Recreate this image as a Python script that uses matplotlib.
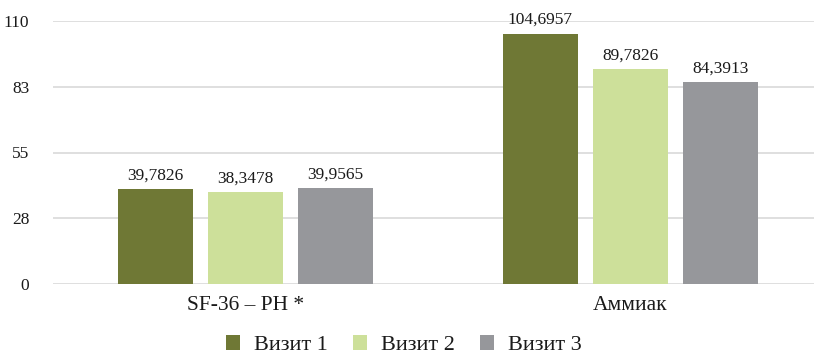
import matplotlib
matplotlib.use('agg')
import matplotlib.pyplot as plt
import numpy as np

categories = ["SF-36 – PH *", "Аммиак"]
series_names = ["Визит 1", "Визит 2", "Визит 3"]
visit1 = [39.7826, 104.6957]
visit2 = [38.3478, 89.7826]
visit3 = [39.9565, 84.3913]
y_ticks = [0, 27.5, 55, 82.5, 110]
y_tick_labels = ["0", "28", "55", "83", "110"]

colors = ["#6F7835", "#CDE09A", "#96979B"]

plt.rcParams['font.family'] = ['Liberation Serif', 'DejaVu Serif']

fig = plt.figure(figsize=(8.14, 3.54), dpi=100)
W, H = 814, 354
# оси чуть шире картинки: сетка доходит до правого края
ax = fig.add_axes([53 / W, 70 / H, (823 - 53) / W, 263 / H])

x = np.arange(len(categories))
width = 0.195
step = 0.234
for i, (vals, name, c) in enumerate(zip([visit1, visit2, visit3], series_names, colors)):
    bars = ax.bar(x + (i - 1) * step, vals, width, color=c, label=name, zorder=3)
    for b, v in zip(bars, vals):
        # подпись значения с десятичной запятой
        ax.annotate(f"{v:.4f}".replace(".", ","),
                    (b.get_x() + b.get_width() / 2, v),
                    xytext=(0, 4), textcoords="offset points",
                    ha="center", va="bottom", fontsize=12.5, color="#1a1a1a")

ax.set_xlim(-0.5, 1.5)
ax.set_ylim(0, 110)
ax.set_yticks(y_ticks)
ax.set_yticklabels(y_tick_labels)
ax.set_xticks(x)
ax.set_xticklabels(categories)
ax.tick_params(axis="y", length=0, pad=17, labelsize=12.5, labelcolor="#1a1a1a")
ax.tick_params(axis="x", length=0, pad=9, labelsize=15.5, labelcolor="#1a1a1a")
ax.yaxis.grid(True, color="#D9D9D9", linewidth=1.2, zorder=0)
for s in ax.spines.values():
    s.set_visible(False)

fig.legend(loc="center", bbox_to_anchor=(0.496, 9 / H), ncol=3, frameon=False,
           fontsize=16, handlelength=0.64, handleheight=0.64,
           handletextpad=0.6, columnspacing=1.15, labelcolor="#1a1a1a")

fig.savefig("out.png", dpi=100)
